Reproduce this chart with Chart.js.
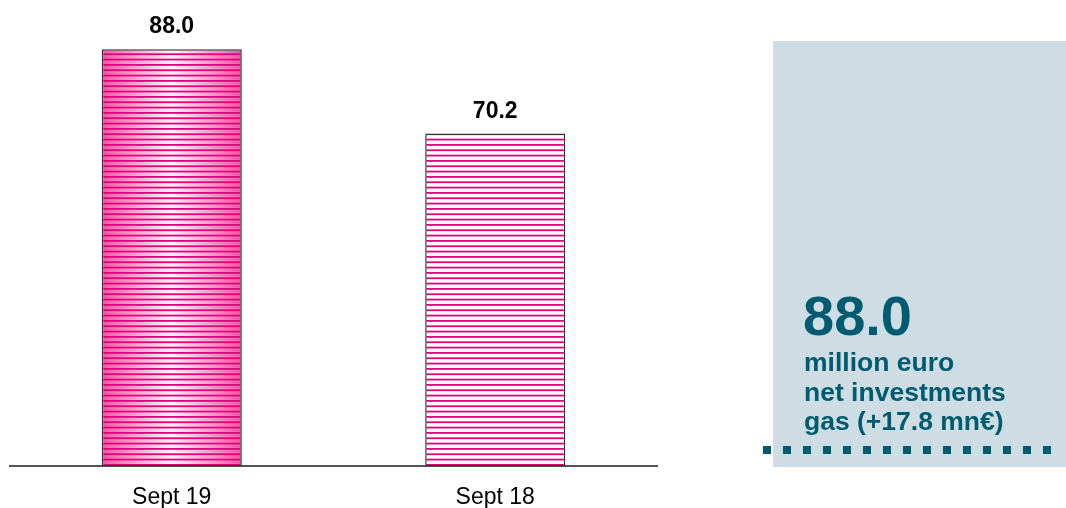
<!DOCTYPE html>
<html>
<head>
<meta charset="utf-8">
<script src="https://cdn.jsdelivr.net/npm/chart.js@4/dist/chart.umd.min.js"></script>
<style>
  html, body { margin: 0; padding: 0; background: #fff; }
  #wrap { position: relative; width: 1066px; height: 508px; }
</style>
</head>
<body>
<div id="wrap"><canvas id="myCanvas" width="1066" height="508"></canvas></div>
<script>
// dati del grafico
const categorie = ["Sept 19", "Sept 18"];
const valori = [88.0, 70.2];
const riquadroValore = "88.0";
const riquadroRighe = ["million euro", "net investments", "gas (+17.8 mn\u20ac)"];

const MAGENTA = '#e4007c';
const TEAL = '#005b70';
const BAR_PCT = 0.433;

// pattern a righe orizzontali per ogni barra
const cachePattern = {};
function patternBarra(context) {
    const chart = context.chart;
    const area = chart.chartArea;
    if (!area) return 'transparent';
    const i = context.dataIndex;
    const key = i + '_' + area.left + '_' + area.right;
    if (cachePattern[key]) return cachePattern[key];

    const xs = chart.scales.x;
    const cx = xs.getPixelForValue(i);
    const half = (area.width / categorie.length) * BAR_PCT / 2;

    const off = document.createElement('canvas');
    off.width = chart.width;
    off.height = 16;
    const o = off.getContext('2d');
    if (i === 0) {
        // sfumatura: bordi rosa, centro quasi bianco
        const g = o.createLinearGradient(cx - half, 0, cx + half, 0);
        g.addColorStop(0, '#ee58a8');
        g.addColorStop(0.3, '#f8b8da');
        g.addColorStop(0.5, '#fff4fa');
        g.addColorStop(0.7, '#f8b8da');
        g.addColorStop(1, '#ee58a8');
        o.fillStyle = g;
    } else {
        o.fillStyle = '#ffffff';
    }
    o.fillRect(0, 0, off.width, 16);
    // tre righe ogni 16px (passo ~5.3px)
    o.fillStyle = MAGENTA;
    [0, 16 / 3, 32 / 3].forEach(function (y) {
        o.fillRect(0, y, off.width, 1.8);
    });

    const p = chart.ctx.createPattern(off, 'repeat');
    cachePattern[key] = p;
    return p;
}

// etichette sopra le barre + riquadro a destra
const pluginEtichette = {
    id: 'etichette',
    afterDatasetsDraw(chart) {
        const ctx = chart.ctx;
        const meta = chart.getDatasetMeta(0);
        ctx.save();
        ctx.fillStyle = '#000';
        ctx.font = 'bold 23px "Liberation Sans", Arial, sans-serif';
        ctx.textAlign = 'center';
        ctx.textBaseline = 'alphabetic';
        meta.data.forEach(function (bar, i) {
            ctx.fillText(valori[i].toFixed(1), bar.x, bar.y - 16);
        });
        ctx.restore();
    },
    beforeDraw(chart) {
        const ctx = chart.ctx;
        ctx.save();
        // riquadro
        ctx.fillStyle = '#cddde3';
        ctx.fillRect(773, 41, 293, 426);
        // testi
        ctx.fillStyle = TEAL;
        ctx.textAlign = 'left';
        ctx.textBaseline = 'alphabetic';
        ctx.font = 'bold 56px "Liberation Sans", Arial, sans-serif';
        ctx.fillText(riquadroValore, 803, 335);
        ctx.font = 'bold 26.5px "Liberation Sans", Arial, sans-serif';
        const basi = [371, 401, 430];
        riquadroRighe.forEach(function (r, i) {
            ctx.fillText(r, 804, basi[i]);
        });
        // linea a quadratini
        for (let x = 763; x < 1058; x += 20) {
            ctx.fillRect(x, 446, 8, 8);
        }
        ctx.restore();
    }
};

const dataChart = {
    labels: categorie,
    datasets: [{
        data: valori,
        backgroundColor: patternBarra,
        borderColor: '#333333',
        borderWidth: 1.5,
        borderSkipped: false,
        barPercentage: BAR_PCT,
        categoryPercentage: 1
    }]
};

const config = {
    type: 'bar',
    data: dataChart,
    options: {
        responsive: false,
        animation: false,
        layout: { padding: { left: 10, right: 409, top: 16, bottom: -20 } },
        plugins: {
            legend: { display: false },
            tooltip: { enabled: false }
        },
        scales: {
            x: {
                grid: { display: false, drawTicks: false },
                border: { display: true, color: '#555555', width: 2 },
                ticks: {
                    color: '#000',
                    padding: 17,
                    font: { family: '"Liberation Sans", Arial, sans-serif', size: 23 }
                }
            },
            y: {
                display: false,
                min: 0,
                max: 95
            }
        }
    },
    plugins: [pluginEtichette]
};

const chart = new Chart(document.getElementById('myCanvas'), config);
</script>
</body>
</html>
